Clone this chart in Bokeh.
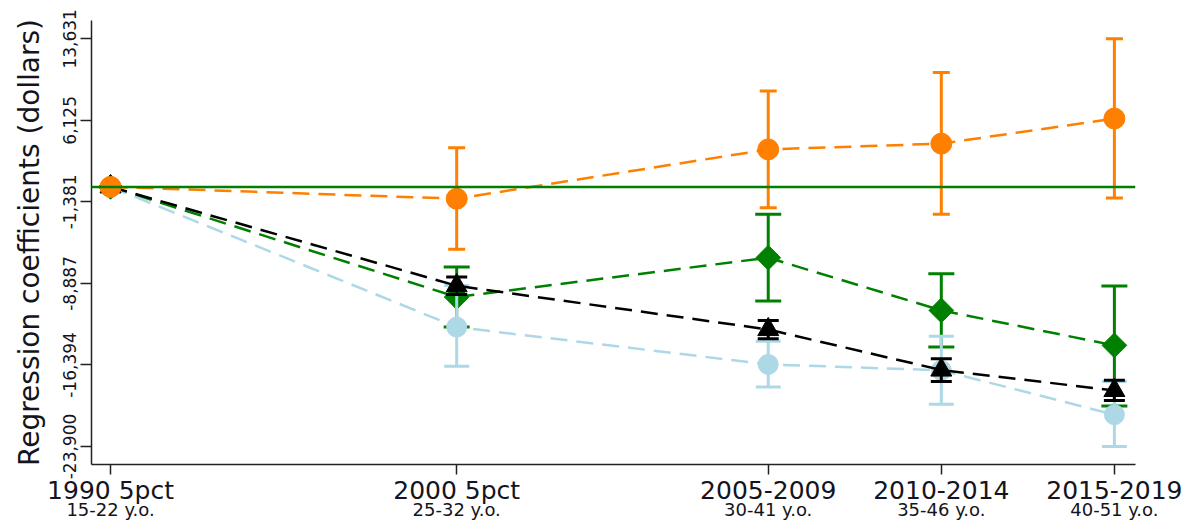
import math

from bokeh.embed import file_html
from bokeh.models import FixedTicker, LinearAxis, NumeralTickFormatter, Range1d, Span
from bokeh.plotting import figure
from bokeh.resources import INLINE

NAN = float("nan")

# survey waves (placed on a year scale) and their tick labels
waves = [1990, 2000, 2009, 2014, 2019]
wave_labels = ["1990 5pct", "2000 5pct", "2005-2009", "2010-2014", "2015-2019"]
age_labels = ["15-22 y.o.", "25-32 y.o.", "30-41 y.o.", "35-46 y.o.", "40-51 y.o."]
y_ticks = [-23900, -16394, -8887, -1381, 6125, 13631]

# coefficients and 95% confidence bounds per group
orange_coef = [0, -1090, 3450, 3980, 6290]
orange_lo = [NAN, -5750, -1920, -2530, -1030]
orange_hi = [NAN, 3610, 8820, 10540, 13631]

green_coef = [0, -10140, -6520, -11370, -14590]
green_lo = [NAN, -12910, -10510, -14750, -20180]
green_hi = [NAN, -7380, -2530, -7990, -9130]

black_coef = [0, -9100, -13130, -16860, -18740]
black_lo = [NAN, -9900, -13980, -17910, -19660]
black_hi = [NAN, -8300, -12290, -15820, -17810]

blue_coef = [0, -12910, -16340, -16890, -20970]
blue_lo = [NAN, -16520, -18430, -20020, -23900]
blue_hi = [NAN, -9070, -14200, -13760, -17910]

ORANGE = "#FF7F00"
GREEN = "#008000"
BLACK = "#000000"
LTBLUE = "#ADD8E6"
FONT = "DejaVu Sans"
TEXT = "#141420"
AXIS = "#222222"

p = figure(
    width=1183,
    height=522,
    output_backend="svg",
    toolbar_location=None,
    x_axis_type=None,
    y_axis_type=None,
    x_range=Range1d(1989.45, 2019.61),
    y_range=Range1d(-25557, 15316),
    min_border_left=91,
    min_border_right=48,
    min_border_top=20,
    min_border_bottom=57,
    background_fill_color="white",
    border_fill_color="white",
)
p.outline_line_color = None
p.xgrid.visible = False
p.ygrid.visible = False

# zero reference line
p.add_layout(Span(location=0, dimension="width", line_color=GREEN, line_width=2.5))

series = [
    (green_coef, green_lo, green_hi, GREEN, "green", 26),
    (blue_coef, blue_lo, blue_hi, LTBLUE, "blue", 25),
    (black_coef, black_lo, black_hi, BLACK, "black", 21),
    (orange_coef, orange_lo, orange_hi, ORANGE, "orange", 17),
]

for coef, lo, hi, color, name, cap in series:
    # confidence interval stems and caps
    p.segment(x0=waves, y0=lo, x1=waves, y1=hi, line_color=color, line_width=3)
    p.scatter(x=waves, y=lo, marker="dash", size=cap, line_color=color, line_width=3)
    p.scatter(x=waves, y=hi, marker="dash", size=cap, line_color=color, line_width=3)
    # connecting dashed line
    p.line(x=waves, y=coef, line_color=color, line_width=2.5, line_dash="17 9")
    # point markers
    if name == "green":
        p.scatter(x=waves, y=coef, marker="square", angle=math.pi / 4, size=17.5,
                  fill_color=color, line_color=color)
    elif name == "black":
        p.scatter(x=waves, y=coef, marker="triangle", size=21,
                  fill_color=color, line_color=color)
    elif name == "blue":
        p.scatter(x=waves, y=coef, marker="circle", size=20,
                  fill_color=color, line_color=color)
    else:
        p.scatter(x=waves, y=coef, marker="circle", size=21,
                  fill_color=color, line_color=color)

# y axis
yaxis = LinearAxis(
    ticker=FixedTicker(ticks=y_ticks),
    formatter=NumeralTickFormatter(format="0,0"),
    axis_label="Regression coefficients (dollars)",
)
yaxis.major_label_orientation = "vertical"
yaxis.major_label_text_font = FONT
yaxis.major_label_text_font_size = "17px"
yaxis.major_label_text_color = TEXT
yaxis.major_label_standoff = 4
yaxis.axis_label_text_font = FONT
yaxis.axis_label_text_font_size = "28px"
yaxis.axis_label_text_font_style = "normal"
yaxis.axis_label_text_color = TEXT
yaxis.axis_label_standoff = 15
yaxis.major_tick_out = 11
yaxis.major_tick_in = 0
yaxis.minor_tick_out = 0
yaxis.minor_tick_in = 0
yaxis.axis_line_width = 1.5
yaxis.major_tick_line_width = 1.5
yaxis.axis_line_color = AXIS
yaxis.major_tick_line_color = AXIS
p.add_layout(yaxis, "left")

# x axis: wave names
xaxis = LinearAxis(ticker=FixedTicker(ticks=waves))
xaxis.major_label_overrides = {w: lab for w, lab in zip(waves, wave_labels)}
xaxis.major_label_text_font = FONT
xaxis.major_label_text_font_size = "25px"
xaxis.major_label_text_color = TEXT
xaxis.major_label_standoff = 1
xaxis.major_tick_out = 10
xaxis.major_tick_in = 0
xaxis.minor_tick_out = 0
xaxis.minor_tick_in = 0
xaxis.axis_line_width = 1.5
xaxis.major_tick_line_width = 1.5
xaxis.axis_line_color = AXIS
xaxis.major_tick_line_color = AXIS
p.add_layout(xaxis, "below")

# second row of x labels: age ranges
ageaxis = LinearAxis(ticker=FixedTicker(ticks=waves))
ageaxis.major_label_overrides = {w: lab for w, lab in zip(waves, age_labels)}
ageaxis.major_label_text_font = FONT
ageaxis.major_label_text_font_size = "18px"
ageaxis.major_label_text_color = TEXT
ageaxis.major_label_standoff = -9
ageaxis.axis_line_color = None
ageaxis.major_tick_line_color = None
ageaxis.minor_tick_line_color = None
ageaxis.major_tick_out = 0
ageaxis.major_tick_in = 0
ageaxis.minor_tick_out = 0
ageaxis.minor_tick_in = 0
p.add_layout(ageaxis, "below")

open("out.html", "w").write(file_html(p, INLINE))
